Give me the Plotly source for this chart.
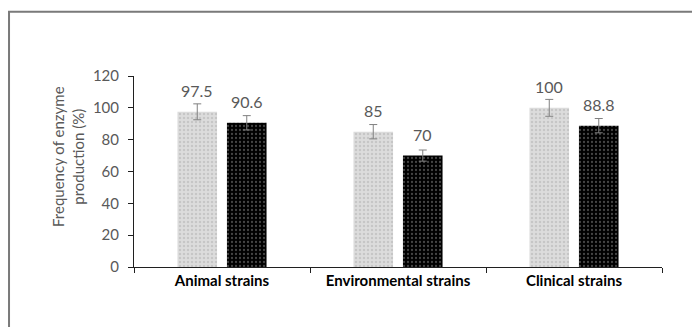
import plotly.graph_objects as go

categories = ["Animal strains", "Environmental strains", "Clinical strains"]
series1_values = [97.5, 85, 100]
series1_errors = [5, 4.5, 5.3]
series2_values = [90.6, 70, 88.8]
series2_errors = [4.5, 3.5, 4.5]
y_ticks = [0, 20, 40, 60, 80, 100, 120]
y_title = "Frequency of enzyme<br>production (%)"

FONT = "Lato"
GREY_TXT = "#595959"

fig = go.Figure()
fig.add_trace(go.Bar(
    x=categories, y=series1_values, name="s1",
    marker=dict(color="#d9d9d9", line=dict(width=0),
                pattern=dict(shape=".", fgcolor="#b0b0b0", bgcolor="#dcdcdc", size=4, solidity=0.3, fillmode="overlay")),
    error_y=dict(type="data", array=series1_errors, color="#808080", thickness=1, width=4),
))
fig.add_trace(go.Bar(
    x=categories, y=series2_values, name="s2",
    marker=dict(color="#000000", line=dict(width=0),
                pattern=dict(shape=".", fgcolor="#8a8a8a", bgcolor="#000000", size=4, solidity=0.25, fillmode="overlay")),
    error_y=dict(type="data", array=series2_errors, color="#808080", thickness=1, width=4),
))

# value labels
offsets = [-24.75, 24.75]
for vals, off in zip([series1_values, series2_values], offsets):
    for c, v in zip(categories, vals):
        fig.add_annotation(x=c, y=v, text=f"{v:g}", showarrow=False,
                           xshift=off, yshift=21, yanchor="middle",
                           font=dict(family=FONT, size=16, color=GREY_TXT))

# y-axis title
fig.add_annotation(xref="paper", yref="paper", x=-0.125, y=0.576, text=y_title,
                   textangle=-90, showarrow=False, xanchor="center", yanchor="middle",
                   align="center", font=dict(family=FONT, size=15, color=GREY_TXT))

# outer border
fig.add_shape(type="rect", xref="paper", yref="paper",
              x0=-0.2367, x1=1.2, y0=-0.5, y1=1.337,
              line=dict(color="#7a7a7a", width=2), fillcolor="rgba(0,0,0,0)", layer="below")

fig.update_layout(
    width=692, height=319,
    margin=dict(l=126, r=38, t=68, b=60),
    paper_bgcolor="white", plot_bgcolor="white",
    showlegend=False,
    barmode="group", bargap=0.4375, bargroupgap=0.2,
    font=dict(family=FONT, color=GREY_TXT),
)
fig.update_xaxes(
    showline=True, linecolor="#202020", linewidth=1,
    ticks="outside", tickson="boundaries", ticklen=5, tickcolor="#202020",
    tickfont=dict(family=FONT, size=15, color="#000000", weight="bold"),
    showgrid=False,
)
fig.update_yaxes(
    range=[0, 120], tickvals=y_ticks,
    showline=True, linecolor="#202020", linewidth=1,
    ticks="outside", ticklen=5, tickcolor="#202020", ticklabelstandoff=6,
    tickfont=dict(family=FONT, size=15, color=GREY_TXT),
    showgrid=False, zeroline=False,
)

fig.write_html("out.html")
